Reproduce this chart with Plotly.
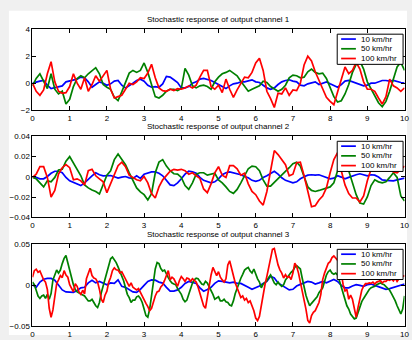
import plotly.graph_objects as go
from plotly.subplots import make_subplots

# time samples, 0.1 s step (channels 1, 2 and the 10 km/hr trace of channel 3)
t = [0.0, 0.1, 0.2, 0.3, 0.4, 0.5, 0.6, 0.7, 0.8, 0.9,
     1.0, 1.1, 1.2, 1.3, 1.4, 1.5, 1.6, 1.7, 1.8, 1.9,
     2.0, 2.1, 2.2, 2.3, 2.4, 2.5, 2.6, 2.7, 2.8, 2.9,
     3.0, 3.1, 3.2, 3.3, 3.4, 3.5, 3.6, 3.7, 3.8, 3.9,
     4.0, 4.1, 4.2, 4.3, 4.4, 4.5, 4.6, 4.7, 4.8, 4.9,
     5.0, 5.1, 5.2, 5.3, 5.4, 5.5, 5.6, 5.7, 5.8, 5.9,
     6.0, 6.1, 6.2, 6.3, 6.4, 6.5, 6.6, 6.7, 6.8, 6.9,
     7.0, 7.1, 7.2, 7.3, 7.4, 7.5, 7.6, 7.7, 7.8, 7.9,
     8.0, 8.1, 8.2, 8.3, 8.4, 8.5, 8.6, 8.7, 8.8, 8.9,
     9.0, 9.1, 9.2, 9.3, 9.4, 9.5, 9.6, 9.7, 9.8, 9.9, 10.0]

# time samples, 0.05 s step (50 and 100 km/hr traces of channel 3)
t_fine = [0.00, 0.05, 0.10, 0.15, 0.20, 0.25, 0.30, 0.35, 0.40, 0.45,
          0.50, 0.55, 0.60, 0.65, 0.70, 0.75, 0.80, 0.85, 0.90, 0.95,
          1.00, 1.05, 1.10, 1.15, 1.20, 1.25, 1.30, 1.35, 1.40, 1.45,
          1.50, 1.55, 1.60, 1.65, 1.70, 1.75, 1.80, 1.85, 1.90, 1.95,
          2.00, 2.05, 2.10, 2.15, 2.20, 2.25, 2.30, 2.35, 2.40, 2.45,
          2.50, 2.55, 2.60, 2.65, 2.70, 2.75, 2.80, 2.85, 2.90, 2.95,
          3.00, 3.05, 3.10, 3.15, 3.20, 3.25, 3.30, 3.35, 3.40, 3.45,
          3.50, 3.55, 3.60, 3.65, 3.70, 3.75, 3.80, 3.85, 3.90, 3.95,
          4.00, 4.05, 4.10, 4.15, 4.20, 4.25, 4.30, 4.35, 4.40, 4.45,
          4.50, 4.55, 4.60, 4.65, 4.70, 4.75, 4.80, 4.85, 4.90, 4.95,
          5.00, 5.05, 5.10, 5.15, 5.20, 5.25, 5.30, 5.35, 5.40, 5.45,
          5.50, 5.55, 5.60, 5.65, 5.70, 5.75, 5.80, 5.85, 5.90, 5.95,
          6.00, 6.05, 6.10, 6.15, 6.20, 6.25, 6.30, 6.35, 6.40, 6.45,
          6.50, 6.55, 6.60, 6.65, 6.70, 6.75, 6.80, 6.85, 6.90, 6.95,
          7.00, 7.05, 7.10, 7.15, 7.20, 7.25, 7.30, 7.35, 7.40, 7.45,
          7.50, 7.55, 7.60, 7.65, 7.70, 7.75, 7.80, 7.85, 7.90, 7.95,
          8.00, 8.05, 8.10, 8.15, 8.20, 8.25, 8.30, 8.35, 8.40, 8.45,
          8.50, 8.55, 8.60, 8.65, 8.70, 8.75, 8.80, 8.85, 8.90, 8.95,
          9.00, 9.05, 9.10, 9.15, 9.20, 9.25, 9.30, 9.35, 9.40, 9.45,
          9.50, 9.55, 9.60, 9.65, 9.70, 9.75, 9.80, 9.85, 9.90, 9.95, 10.00]

speeds = ["10 km/hr", "50 km/hr", "100 km/hr"]
colors = ["#0000ff", "#008000", "#ff0000"]
titles = ["Stochastic response of output channel 1",
          "Stochastic response of output channel 2",
          "Stochastic response of output channel 3"]

# channel 1
ch1_10 = [0, 0.1, 0.15, 0.2, -0.15, -0.4, -0.35, -0.3, -0.2, 0.1,
          0.15, 0.25, 0.3, 0.45, 0.4, 0.1, -0.3, -0.1, 0.1, 0,
          -0.15, -0.05, 0.15, 0.2, -0.15, -0.35, -0.2, 0, 0.2, 0.3,
          0.15, -0.15, -0.3, -0.25, -0.3, -0.05, 0.5, 0.45, 0.25, 0.05,
          -0.35, -0.35, -0.25, 0, 0.1, 0.3, 0.35,
          0.3, 0.2, 0.05, -0.1, -0.3, -0.4, -0.2, -0.05, 0, 0.1,
          0.1, 0.2, 0.25, 0.1, 0.05, -0.15, -0.35, -0.45, -0.35, -0.1,
          0.1, 0.2, 0.25, 0.15, 0.1, -0.15, -0.2, -0.05, 0, 0.1,
          -0.1, 0, 0.1, -0.05, -0.2, -0.3, -0.1, 0.15, 0.2, 0.1,
          0, -0.1, -0.2, -0.15, 0, 0, 0.1, 0.2, 0.2, 0.15,
          0.2, 0.1, 0.05, 0]
ch1_50 = [-0.2, 0.35, 0.7, 0.1, -0.4, 0.7, -0.45, -0.8, -0.6, -1.55,
          -1.2, -0.25, 0.35, 0.55, 0.4, 0.7, 0.95, 1.15, 0.7, -0.1,
          -0.3, -0.45, -1.05, -1.3, -0.65, 0, 0.75, 0.95, 0.8, 0.95,
          1.5, 0.8, -0.1, -1.0, -1.1, -0.9, -0.6, -0.45, -0.45, -0.55,
          -0.4, 1.1, 0.6, -0.2, -0.35, -0.2, -0.15,
          -0.25, -0.45, 0.1, 0.45, 0.7, 0.8, 0.95, 0.75, 0.55, 0.15,
          -0.25, -0.6, -0.45, -0.35, -0.2, 0.15, 0.05, -0.25, -0.45, -0.6,
          -0.45, -0.15, 0.4, 0.6, 0.55, 0.4, 0.45, 0.85, 1.05, 0.8,
          0.7, 0.75, 0.35, -0.35, -1.0, -1.4, -1.3, -0.8, -0.1, 0.8,
          1.4, 1.65, 1.05, 0.1, -0.45, -0.9, -1.45, -1.75, -1.35, -0.6,
          0.4, 1.2, 1.55, 0.95]
ch1_100 = [0, -0.6, -0.9, -0.5, 0.7, 1.6, 0.1, -0.6, -0.75, -0.7,
           -0.25, 0.7, 0, -0.45, 0.4, -0.6, -0.1, 0.55, 0.15, 0.6,
           0.95, -0.45, -1.1, -1.0, -0.9, -0.45, 0, -0.1, 0.1, 0.4,
           0.35, 0.75, 1.4, 0.4, -0.35, -0.55, -0.6, -0.45, -0.55, -0.4,
           -0.45, -0.35, -0.2, -0.35, -0.15, 0.45, 0.95,
           0.95, -0.25, -0.45, -0.15, -0.7, 0.3, -0.45, -1.05, -0.5, 0,
           0.45, 0.4, 0.8, 1.5, 1.85, 0.95, -0.6, -1.15, -1.8, -0.75,
           -0.8, -0.35, -0.9, -0.5, -0.55, 0, 1.35, 2.0, 1.65, 0.85,
           0.2, -0.45, -1.05, -1.35, -1.6, -0.65, 0.2, 1.2, 0.7, 0.95,
           1.55, 1.05, 0.1, -0.45, -0.45, -0.6, -1.1, -1.55, -1.0, 0.3,
           -0.2, -0.35, -0.6, -0.35]

# channel 2
ch2_10 = [0, -0.0006, -0.002, -0.002, 0.0003, 0.0035, 0.0055, 0.0055, 0.004, -0.0006,
          -0.004, -0.0055, -0.0074, -0.0087, -0.006, -0.002, 0.001, 0.004, 0.002, 0.001,
          0.001, 0.0013, 0, -0.0013, -0.0003, 0.0003, -0.001, -0.0016, 0.001, -0.0016,
          0.0026, 0.004, 0.0048, 0.0048, 0.0035, 0.001, -0.004, -0.008, -0.0087, -0.006,
          -0.002, 0.0026, 0.0055, 0.005, 0.0035, -0.0006, -0.0035,
          -0.005, -0.006, -0.005, -0.002, 0.002, 0.004, 0.0048, 0.004, 0.0035, 0.002,
          0.0003, -0.001, -0.0035, -0.0045, -0.0035, -0.0006, 0.001, 0.0035, 0.0055, 0.0026,
          -0.001, -0.0035, -0.005, -0.006, -0.005, -0.002, 0, 0.0016, 0.002, 0.0016,
          0.002, 0.0006, -0.0006, -0.002, -0.0013, 0.001, -0.0003, -0.002, -0.0006, 0.001,
          0.002, 0.003, 0.002, 0.001, 0.002, 0.0016, -0.0003, -0.003, -0.0035, -0.004,
          -0.004, -0.003, -0.002, -0.0013]
ch2_50 = [-0.0006, -0.002, -0.006, -0.010, -0.004, -0.005, -0.0006, 0.0067, 0.0074, 0.0154,
          0.020, 0.014, 0.0074, 0.001, -0.008, -0.011, -0.013, -0.0145, -0.017, -0.007,
          0.0016, 0.006, 0.017, 0.0225, 0.017, 0.012, 0.004, -0.003, -0.011, -0.015,
          -0.0177, -0.023, -0.0167, 0.004, 0.0145, 0.017, 0.0106, 0.006, 0.003, 0.0026,
          -0.0006, -0.0087, -0.0125, -0.006, 0.0026, 0.004, 0.004,
          0.0016, 0.0026, 0.0035, -0.003, -0.006, -0.010, -0.0145, -0.0164, -0.0125, -0.006,
          0.0003, 0.008, 0.0106, 0.010, 0.006, -0.003, -0.0093, -0.0093, -0.0055, -0.002,
          0.001, 0.0048, 0.009, 0.013, 0.0145, 0.0106, -0.0006, -0.010, -0.0135, -0.0145,
          -0.0135, -0.0125, -0.011, -0.010, -0.006, 0.006, 0.014, 0.013, 0.006, -0.0055,
          -0.0177, -0.026, -0.027, -0.020, -0.0087, -0.003, -0.005, -0.006, -0.005, -0.0006,
          0.004, -0.0006, -0.019, -0.024]
ch2_100 = [-0.0006, 0.0026, 0.010, 0.010, -0.0006, -0.020, -0.0135, 0.0026, 0.009, 0.012,
           0.009, -0.003, -0.002, -0.004, -0.008, 0.006, 0.0074, 0.001, -0.002, -0.005,
           -0.0157, -0.007, 0.0026, 0.011, 0.0145, 0.010, 0.0016, -0.0006, -0.003, -0.004,
           0.0003, -0.006, -0.0167, -0.021, -0.010, -0.003, 0.0016, 0.0055, 0.0074, 0.0067,
           0.0074, 0.006, 0.0026, 0.004, 0.001, -0.0016, -0.012,
           -0.0157, -0.007, 0.004, 0.010, 0.0016, -0.0006, 0.011, 0.011, 0.008, 0.0016,
           0.0035, -0.007, -0.0145, -0.0177, -0.024, -0.028, -0.0145, 0.006, 0.026, 0.022,
           0.0164, 0.012, 0.001, 0.0026, 0.014, 0.0145, 0.001, -0.015, -0.0296, -0.0286,
           -0.023, -0.019, -0.011, 0.004, 0.017, 0.024, 0.006, -0.008, -0.0167, -0.021,
           -0.021, -0.025, -0.019, -0.004, 0.0074, 0.012, 0.009, 0.0106, 0.008, 0.010,
           0.0048, 0.004, 0.0074, 0.0106]

# channel 3 (10 km/hr on t, the others on t_fine)
ch3_10 = [0.0008, -0.0024, 0.004, 0.0075, 0.0085, 0.0085, 0.0063, 0.0008, -0.0056, -0.008,
          -0.008, -0.0087, -0.0063, -0.003, -0.0024, 0.003, 0.0063, 0.003, 0.0048, 0.0024,
          0.0008, 0.003, 0.0024, 0.0067, -0.0012, -0.0024, -0.005, -0.008, -0.0087, -0.005,
          0, 0.0048, 0.0067, 0.0063, 0.004, 0.0028, -0.0024, -0.0071, -0.0071, -0.0056,
          -0.0024, 0.0024, 0.0048, 0.004, 0.0024, -0.003, -0.0071,
          -0.005, -0.0024, 0.0024, 0.0055, 0.0048, 0.0036, 0.003, 0.004, 0.0024, 0.0024,
          0.0004, -0.0024, -0.0048, -0.003, -0.0008, 0.0024, 0.0048, 0.011, 0.009, 0.003,
          0, -0.0024, -0.0056, -0.0048, -0.0008, 0.0012, 0.0028, 0.0048, 0.004, 0.0016,
          0.003, 0.0048, 0.003, 0.0048, 0.0071, 0.0048, 0, -0.003, -0.003, -0.0008,
          0.0008, 0, -0.0012, 0.0008, 0.0016, 0, -0.0016, -0.003, -0.0048, -0.004,
          -0.0024, -0.0012, 0.0008, 0.0016]
ch3_50 = [0.004, 0.0008, -0.006, -0.013, -0.016, -0.013, -0.012, -0.016, -0.011, -0.017,
          -0.01, 0.0067, 0.0127, 0.0187, 0.015, 0.0187, 0.0266, 0.033, 0.0365, 0.0286,
          0.0187, 0.0095, 0.0008, -0.005, -0.008, -0.009, -0.011, -0.012, -0.013, -0.016,
          -0.019, -0.019, -0.017, -0.021, -0.025, -0.027, -0.021, -0.009, -0.0012, 0.0087,
          0.0147, 0.0226, 0.0325, 0.0345, 0.0317, 0.0278, 0.0226, 0.0167, 0.0127, 0.0056,
          -0.003, -0.011, -0.015, -0.021, -0.018, -0.018, -0.014, -0.013, -0.016, -0.021,
          -0.029, -0.037, -0.039, -0.029, -0.013, 0.0048, 0.02, 0.028, 0.0266, 0.0206,
          0.0175, 0.0187, 0.0135, 0.0095, 0.0056, 0.0028, 0.0016, 0.0008, -0.004, -0.007,
          -0.011, -0.017, -0.02, -0.018, -0.011, -0.003, 0.0028, 0.0067, 0.0087, 0.008,
          0.0048, 0.0016, 0.0008, 0.0048, 0.0028, -0.0012, -0.006, -0.011, -0.017, -0.015,
          -0.014, -0.019, -0.019, -0.017, -0.02, -0.021, -0.024, -0.025, -0.019, -0.010,
          -0.003, 0.004, 0.0087, 0.0135, 0.0187, 0.0206, 0.022, 0.0175, 0.015, 0.02,
          0.0127, 0.008, 0.004, -0.003, 0.0016, 0.004, 0.0056, 0.0095, 0.0127, 0.008,
          0.0028, 0.0008, 0.004, 0.0008, -0.0012, 0.0008, 0.0067, 0.0095, 0.0135, 0.016,
          0.018, 0.022, 0.024, 0.022, 0.02, 0.0087, -0.003, -0.012, -0.019, -0.025,
          -0.022, -0.019, -0.017, -0.014, -0.009, -0.006, -0.003, 0.0048, 0.0127, 0.0167,
          0.0187, 0.015, 0.0135, 0.015, 0.0127, 0.0056, -0.0024, -0.010, -0.017, -0.025,
          -0.029, -0.035, -0.038, -0.041, -0.04, -0.033, -0.026, -0.02, -0.016, -0.012,
          -0.008, -0.005, -0.003, -0.0024, -0.0012, 0.0008, 0.0024, 0.003, 0.0016, 0.0008,
          -0.0016, -0.004, -0.006, -0.010, -0.014, -0.019, -0.025, -0.030, -0.035, -0.029,
          -0.013]
ch3_100 = [0.01, 0.018, 0.0198, 0.016, 0.0175, 0.012, 0.0067, 0.004, -0.005, -0.028,
           -0.039, -0.03, -0.01, 0.002, 0.0067, 0.012, 0.0095, 0.018, 0.0127, 0.01,
           0.0008, -0.004, -0.008, 0.002, -0.0012, -0.008, -0.011, -0.006, -0.0103, 0.008,
           0.016, 0.021, 0.012, 0.009, 0.008, 0.004, -0.005, -0.017, -0.021, -0.012,
           -0.0071, 0.004, 0.0095, 0.018, 0.0214, 0.019, 0.0187, 0.015, 0.0167, 0.012,
           0.0067, 0.002, -0.0012, 0.003, -0.0024, -0.004, -0.0056, -0.004, -0.009, -0.012,
           -0.017, -0.022, -0.026, -0.031, -0.028, -0.02, -0.013, -0.008, -0.0071, -0.002,
           0.0008, 0.006, 0.0127, 0.018, 0.0067, 0.01, 0.008, 0.003, -0.0012, 0.006,
           0.0107, 0.008, 0.0048, 0.009, 0.008, 0.005, 0.008, 0.006, 0.004, -0.002,
           -0.009, -0.018, -0.025, -0.028, -0.013, 0.002, 0.0127, 0.022, 0.0175, 0.012,
           0.0167, 0.01, 0.0067, 0.004, 0.008, 0.025, 0.03, 0.02, 0.011, 0.003,
           -0.003, -0.009, -0.015, -0.013, -0.018, -0.016, -0.021, -0.019, -0.025, -0.031,
           -0.04, -0.043, -0.038, -0.025, -0.009, 0.001, 0.011, 0.021, 0.03, 0.044,
           0.045, 0.033, 0.025, 0.019, 0.015, 0.009, 0.013, 0.0095, 0.011, 0.007,
           0.015, 0.027, 0.023, 0.015, 0.005, -0.007, -0.015, -0.029, -0.043, -0.046,
           -0.037, -0.033, -0.031, -0.025, -0.021, -0.011, 0.007, 0.015, 0.02, 0.027,
           0.029, 0.034, 0.036, 0.033, 0.03, 0.028, 0.015, 0.0008, -0.007, -0.005,
           -0.017, -0.012, -0.017, -0.029, -0.039, -0.027, -0.017, -0.006, -0.001, 0.002,
           0.002, 0.003, 0.0024, 0.004, 0.0016, 0.004, 0.0048, 0.006, 0.0028, 0.005,
           0.0048, 0.007, 0.0063, 0.008, 0.0056, 0.009, 0.0048, 0.008, 0.0095, 0.011,
           0.012]

channels = [[ch1_10, ch1_50, ch1_100],
            [ch2_10, ch2_50, ch2_100],
            [ch3_10, ch3_50, ch3_100]]
times = [[t, t, t],
         [t, t, t],
         [t, t_fine, t_fine]]

xticks = [0, 1, 2, 3, 4, 5, 6, 7, 8, 9, 10]
xticklabels = ["0", "1", "2", "3", "4", "5", "6", "7", "8", "9", "10"]
yticks = [[-2, 0, 2, 4],
          [-0.04, -0.02, 0, 0.02, 0.04],
          [-0.05, 0, 0.05]]
yticklabels = [["\u22122", "0", "2", "4"],
               ["\u22120.04", "\u22120.02", "0", "0.02", "0.04"],
               ["\u22120.05", "0", "0.05"]]
yranges = [[-2, 4], [-0.04, 0.04], [-0.05, 0.05]]

W, H = 412, 340
FONT = "Liberation Sans, Arial, Helvetica, sans-serif"
# pixel geometry of the axes boxes (left, right, top, bottom)
ax_left, ax_right = 31, 409.5
ax_tops = [26, 136, 247]
ax_bots = [109, 219, 331]
# legend box geometry (pixels): box spans top+5 .. top+36, rows relative to box top
leg_x0, leg_x1 = 341, 408
leg_dy0, leg_dy1 = 5, 36
leg_rows = [5, 15, 25]
leg_line_x0, leg_line_x1, leg_text_x = 345, 360, 363

fig = make_subplots(rows=3, cols=1)

for i in range(3):
    for j in range(3):
        fig.add_trace(go.Scatter(
            x=times[i][j], y=channels[i][j], mode="lines", name=speeds[j],
            line=dict(color=colors[j], width=1.7), showlegend=False),
            row=i + 1, col=1)

axis_common = dict(showline=True, linecolor="black", linewidth=1, mirror="ticks",
                   ticks="inside", ticklen=4, tickwidth=1, tickcolor="black",
                   showgrid=False, zeroline=False, ticklabeloverflow="allow",
                   tickfont=dict(family=FONT, size=8, color="black"))

shapes = [dict(type="rect", xref="paper", yref="paper",
               x0=7 / W, x1=1, y0=0, y1=1 - 7 / H,
               fillcolor="white", line=dict(width=0), layer="below")]
annotations = []

layout = dict(width=W, height=H, autosize=False,
              margin=dict(l=0, r=0, t=0, b=0),
              paper_bgcolor="#f0f0f0", plot_bgcolor="white",
              font=dict(family=FONT, size=8, color="black"),
              showlegend=False)

for i in range(3):
    xa = "xaxis" if i == 0 else f"xaxis{i+1}"
    ya = "yaxis" if i == 0 else f"yaxis{i+1}"
    layout[xa] = dict(axis_common, domain=[ax_left / W, ax_right / W], range=[0, 10],
                      tickvals=xticks, ticktext=xticklabels)
    layout[ya] = dict(axis_common, domain=[1 - ax_bots[i] / H, 1 - ax_tops[i] / H],
                      range=yranges[i], tickvals=yticks[i], ticktext=yticklabels[i])
    annotations.append(dict(
        text=titles[i], xref="paper", yref="paper",
        x=(ax_left + ax_right) / 2 / W, y=1 - (ax_tops[i] - 10) / H,
        xanchor="center", yanchor="middle", showarrow=False,
        font=dict(family=FONT, size=8, color="black")))
    # legend box (MATLAB style)
    box_top = ax_tops[i] + leg_dy0
    shapes.append(dict(type="rect", xref="paper", yref="paper",
                       x0=leg_x0 / W, x1=leg_x1 / W,
                       y0=1 - (ax_tops[i] + leg_dy1) / H, y1=1 - box_top / H,
                       fillcolor="white", line=dict(color="black", width=1),
                       layer="above"))
    for j in range(3):
        yy = 1 - (box_top + leg_rows[j]) / H
        shapes.append(dict(type="line", xref="paper", yref="paper",
                           x0=leg_line_x0 / W, x1=leg_line_x1 / W, y0=yy, y1=yy,
                           line=dict(color=colors[j], width=1.7), layer="above"))
        annotations.append(dict(
            text=speeds[j], xref="paper", yref="paper",
            x=leg_text_x / W, y=yy, xanchor="left", yanchor="middle",
            showarrow=False, font=dict(family=FONT, size=8, color="black")))

layout["shapes"] = shapes
layout["annotations"] = annotations
fig.update_layout(**layout)
fig.write_html("out.html")
